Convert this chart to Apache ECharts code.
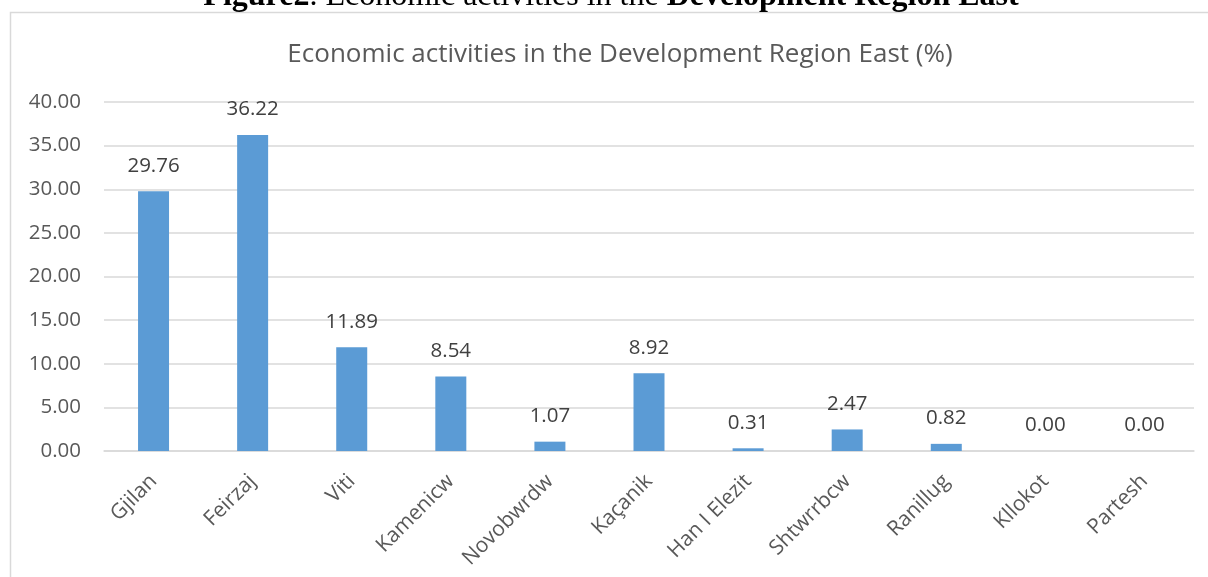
<!DOCTYPE html>
<html>
<head>
<meta charset="utf-8">
<style>
  html, body { margin: 0; padding: 0; background: #ffffff; }
  #chart { width: 1208px; height: 577px; }
</style>
<script src="https://cdn.jsdelivr.net/npm/echarts@6/dist/echarts.min.js"></script>
</head>
<body>
<div id="chart"></div>
<script>
// Municipalities of the Development Region East
const categories = ['Gjilan', 'Feirzaj', 'Viti', 'Kamenicw', 'Novobwrdw', 'Kaçanik',
                    'Han I Elezit', 'Shtwrrbcw', 'Ranillug', 'Kllokot', 'Partesh'];
// Share of economic activities (%)
const shares = [29.76, 36.22, 11.89, 8.54, 1.07, 8.92, 0.31, 2.47, 0.82, 0.00, 0.00];
// Value axis range
const axisMin = 0;
const axisMax = 40;
const axisStep = 5;

const chartTitle = 'Economic activities in the Development Region East (%)';

const sans = 'Open Sans';
const chart = echarts.init(document.getElementById('chart'), null, { renderer: 'canvas' });

chart.setOption({
  backgroundColor: '#ffffff',
  animation: false,
  title: {
    text: chartTitle,
    left: 615,
    top: 37,
    textAlign: 'center',
    textStyle: { fontFamily: sans, fontSize: 26, fontWeight: 'normal', color: '#595959' }
  },
  graphic: [
    {
      // chart area frame
      type: 'rect',
      z: -1,
      shape: { x: 10.5, y: 12.5, width: 1400, height: 800 },
      style: { fill: 'none', stroke: '#d9d9d9', lineWidth: 1.5 }
    },
    {
      // figure caption above the frame
      type: 'text',
      x: 611,
      y: -3.5,
      style: {
        text: '{b|Figure2}{r|. Economic activities in the }{b|Development Region East}',
        align: 'center',
        verticalAlign: 'middle',
        rich: {
          b: { fontFamily: 'Liberation Serif', fontSize: 32, fontWeight: 'bold', fill: '#000000' },
          r: { fontFamily: 'Liberation Serif', fontSize: 32, fontWeight: 'normal', fill: '#000000' }
        }
      }
    }
  ],
  grid: { left: 104, right: 14, top: 102, bottom: 126, containLabel: false },
  xAxis: {
    type: 'category',
    data: categories,
    axisTick: { show: false },
    axisLine: { lineStyle: { color: '#d9d9d9', width: 1.5 } },
    axisLabel: {
      interval: 0,
      rotate: 45,
      margin: 27,
      fontFamily: sans,
      fontSize: 21,
      color: '#595959'
    }
  },
  yAxis: {
    type: 'value',
    min: axisMin,
    max: axisMax,
    interval: axisStep,
    axisLine: { show: false },
    axisTick: { show: false },
    splitLine: { lineStyle: { color: '#d9d9d9', width: 1.5 } },
    axisLabel: {
      margin: 23,
      fontFamily: sans,
      fontSize: 20.5,
      color: '#595959',
      formatter: v => v.toFixed(2)
    }
  },
  series: [{
    type: 'bar',
    data: shares,
    barWidth: 31,
    itemStyle: { color: '#5b9bd5' },
    label: {
      show: true,
      position: 'top',
      distance: 15,
      fontFamily: sans,
      fontSize: 20.5,
      color: '#404040',
      formatter: p => p.value.toFixed(2)
    }
  }]
});
</script>
</body>
</html>
